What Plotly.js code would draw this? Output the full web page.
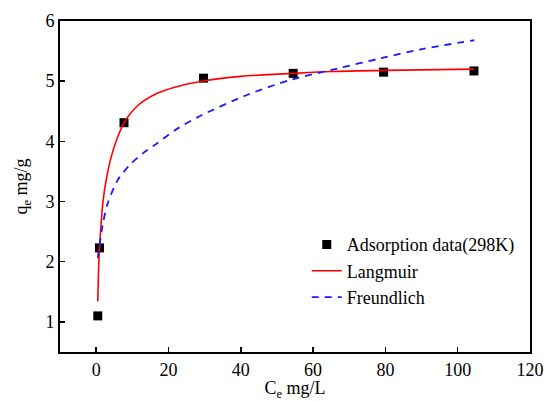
<!DOCTYPE html>
<html>
<head>
<meta charset="utf-8">
<script src="https://cdn.plot.ly/plotly-3.0.1.min.js"></script>
<style>html,body{margin:0;padding:0;background:#fff;}#chart{width:547px;height:401px;}</style>
</head>
<body>
<div id="chart"></div>
<script>
// Experimental adsorption data (298K)
var dataC = [0.45, 0.92, 7.7, 29.7, 54.5, 79.5, 104.5];
var dataQ = [1.10, 2.23, 4.31, 5.05, 5.13, 5.15, 5.17];

// Langmuir fit curve
var langC = [0.45, 0.64, 0.92, 1.39, 1.83, 2.78, 4.2, 6.0, 7.7, 11.6, 16.2, 21.7, 29.2, 40, 54.6, 64.8, 80, 104.5];
var langQ = [1.34, 1.81, 2.23, 2.64, 2.97, 3.36, 3.75, 4.08, 4.31, 4.60, 4.78, 4.90, 5.00, 5.08, 5.13, 5.16, 5.18, 5.20];

// Freundlich fit curve
var freC = [0.45, 1.83, 3.2, 6.0, 9.5, 12.9, 16.2, 22.7, 29.0, 41.7, 53.7, 66.7, 78.7, 89.8, 104.6];
var freQ = [2.06, 2.62, 2.97, 3.36, 3.62, 3.80, 3.94, 4.22, 4.43, 4.77, 5.02, 5.21, 5.38, 5.53, 5.68];

var xTicks = [0, 20, 40, 60, 80, 100, 120];
var yTicks = [1, 2, 3, 4, 5, 6];

var font = "'Liberation Serif', 'Times New Roman', serif";

var traces = [
  {x: dataC, y: dataQ, mode: 'markers', type: 'scatter', name: 'Adsorption data(298K)',
   marker: {symbol: 'square', size: 9, color: '#000'}},
  {x: langC, y: langQ, mode: 'lines', type: 'scatter', name: 'Langmuir',
   line: {color: '#ff0000', width: 1.6, shape: 'spline', smoothing: 0.8}},
  {x: freC, y: freQ, mode: 'lines', type: 'scatter', name: 'Freundlich',
   line: {color: '#1a1aff', width: 1.8, dash: '7px,6px', shape: 'spline', smoothing: 0.8}}
];

var layout = {
  width: 547, height: 401,
  margin: {l: 60, r: 17, t: 21, b: 49},
  paper_bgcolor: '#fff', plot_bgcolor: '#fff',
  font: {family: font, size: 18, color: '#000'},
  showlegend: true,
  legend: {x: 0.525, y: 0.38, xanchor: 'left', yanchor: 'top', bgcolor: 'rgba(0,0,0,0)',
           font: {family: font, size: 18, color: '#000'}, tracegroupgap: 0},
  xaxis: {
    range: [-10, 120], tickvals: xTicks, ticktext: xTicks.map(String),
    ticks: 'inside', ticklen: 5, tickwidth: 1.5, tickcolor: '#000',
    showline: true, linewidth: 2, linecolor: '#000', mirror: true,
    showgrid: false, zeroline: false,
    tickfont: {family: font, size: 18},
    title: {text: 'C<sub>e</sub> mg/L', font: {family: font, size: 18}, standoff: 16}
  },
  yaxis: {
    range: [0.5, 6], tickvals: yTicks, ticktext: yTicks.map(String),
    ticks: 'inside', ticklen: 5, tickwidth: 1.5, tickcolor: '#000',
    showline: true, linewidth: 2, linecolor: '#000', mirror: true,
    showgrid: false, zeroline: false,
    tickfont: {family: font, size: 18},
    title: {text: 'q<sub>e</sub> mg/g', font: {family: font, size: 18}, standoff: 13}
  }
};

Plotly.newPlot('chart', traces, layout, {displayModeBar: false, staticPlot: true});
</script>
</body>
</html>
